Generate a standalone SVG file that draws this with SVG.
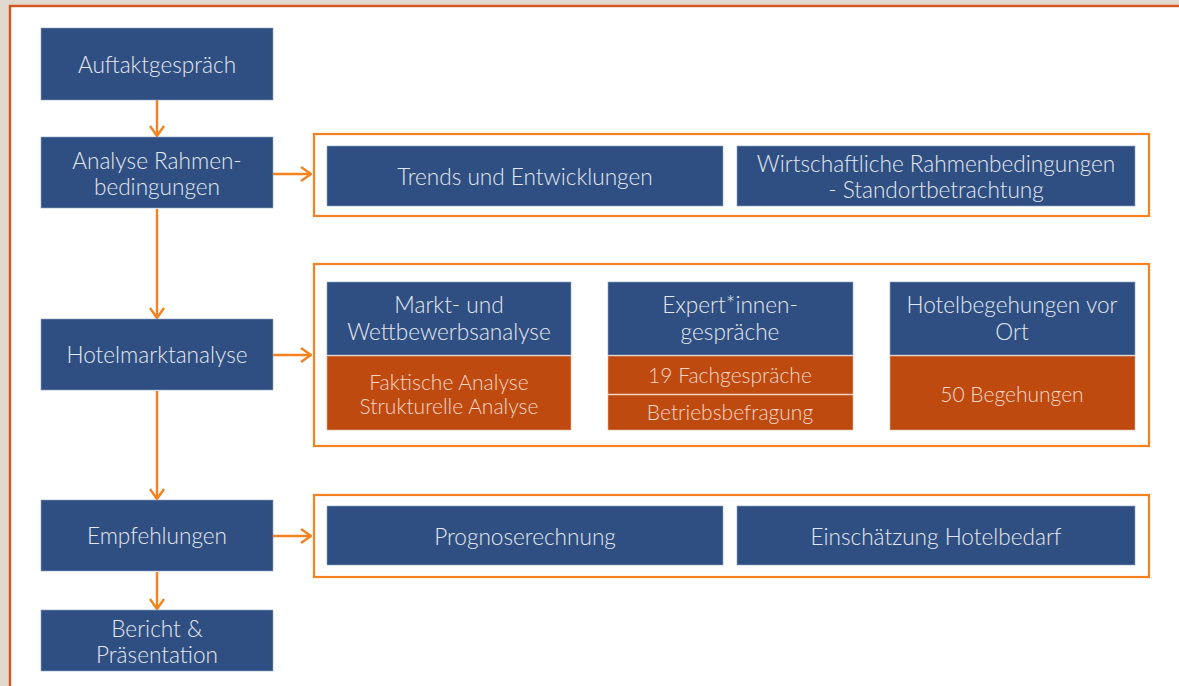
<svg xmlns="http://www.w3.org/2000/svg" width="1179" height="686" viewBox="0 0 1179 686">
<defs>
<marker id="ah" viewBox="0 0 12 16" refX="11" refY="8" markerWidth="12" markerHeight="16" markerUnits="userSpaceOnUse" orient="auto">
<path d="M1,1 L11,8 L1,15" fill="none" stroke="#f5821f" stroke-width="2.4"/>
</marker>
</defs>
<style>
.b{fill:#2f4f82;stroke:#8fa3c4;stroke-width:0.6}
.o{fill:#bf4a10;stroke:#e8b49a;stroke-width:0.6}
.c{fill:none;stroke:#f5821f;stroke-width:2.2}
.t{font-family:Lato,"Open Sans",sans-serif;font-size:22.6px;fill:#e3e8f0;text-anchor:middle;font-weight:300}
.w{fill:#f2d6c6;font-size:21px}
.a{fill:none;stroke:#f5821f;stroke-width:2.4}
</style>
<rect width="1179" height="686" fill="#e1d8ce"/>
<rect x="10" y="6" width="1175" height="690" fill="#ffffff" stroke="#d4561f" stroke-width="2.4"/>
<g id="connectors">
<line class="a" x1="157" y1="100" x2="157" y2="136" marker-end="url(#ah)"/>
<line class="a" x1="157" y1="209" x2="157" y2="318" marker-end="url(#ah)"/>
<line class="a" x1="157" y1="391" x2="157" y2="499" marker-end="url(#ah)"/>
<line class="a" x1="157" y1="572" x2="157" y2="609" marker-end="url(#ah)"/>
<line class="a" x1="273" y1="174" x2="311" y2="174" marker-end="url(#ah)"/>
<line class="a" x1="273" y1="355" x2="311" y2="355" marker-end="url(#ah)"/>
<line class="a" x1="273" y1="536" x2="311" y2="536" marker-end="url(#ah)"/>
</g>
<g id="container1"><rect class="c" x="314" y="134" width="835" height="82"/></g>
<g id="container2"><rect class="c" x="314" y="264" width="835" height="182"/></g>
<g id="container3"><rect class="c" x="314" y="495" width="835" height="82"/></g>
<g id="auftakt"><rect class="b" x="41" y="28" width="232" height="72"/><text class="t" x="157" y="73">Auftaktgespräch</text></g>
<g id="analyse"><rect class="b" x="41" y="137" width="232" height="71"/><text class="t" x="157" y="169">Analyse Rahmen-</text><text class="t" x="157" y="195">bedingungen</text></g>
<g id="hotelmarkt"><rect class="b" x="41" y="319" width="232" height="71"/><text class="t" x="157" y="363">Hotelmarktanalyse</text></g>
<g id="empfehlungen"><rect class="b" x="41" y="500" width="232" height="71"/><text class="t" x="157" y="544">Empfehlungen</text></g>
<g id="bericht"><rect class="b" x="41" y="610" width="232" height="61"/><text class="t" x="157" y="637">Bericht &amp;</text><text class="t" x="157" y="663">Präsentation</text></g>
<g id="trends"><rect class="b" x="327" y="146" width="396" height="60"/><text class="t" x="525" y="185">Trends und Entwicklungen</text></g>
<g id="wirtschaft"><rect class="b" x="737" y="146" width="398" height="60"/><text class="t" x="936" y="172">Wirtschaftliche Rahmenbedingungen</text><text class="t" x="936" y="198">- Standortbetrachtung</text></g>
<g id="markt"><rect class="b" x="327" y="282" width="244" height="73"/><text class="t" x="449" y="313">Markt- und</text><text class="t" x="449" y="340">Wettbewerbsanalyse</text></g>
<g id="markt-detail"><rect class="o" x="327" y="356" width="244" height="74"/><text class="t w" x="449" y="390">Faktische Analyse</text><text class="t w" x="449" y="414">Strukturelle Analyse</text></g>
<g id="expert"><rect class="b" x="608" y="282" width="245" height="73"/><text class="t" x="730" y="313">Expert*innen-</text><text class="t" x="730" y="340">gespräche</text></g>
<g id="fach"><rect class="o" x="608" y="356" width="245" height="38"/><text class="t w" x="730" y="383">19 Fachgespräche</text></g>
<g id="betrieb"><rect class="o" x="608" y="395" width="245" height="35"/><text class="t w" x="730" y="420">Betriebsbefragung</text></g>
<g id="hotelbeg"><rect class="b" x="890" y="282" width="245" height="73"/><text class="t" x="1012" y="313">Hotelbegehungen vor</text><text class="t" x="1012" y="340">Ort</text></g>
<g id="begehungen"><rect class="o" x="890" y="356" width="245" height="74"/><text class="t w" x="1012" y="402">50 Begehungen</text></g>
<g id="prognose"><rect class="b" x="327" y="506" width="396" height="59"/><text class="t" x="525" y="545">Prognoserechnung</text></g>
<g id="einschaetzung"><rect class="b" x="737" y="506" width="398" height="59"/><text class="t" x="936" y="545">Einschätzung Hotelbedarf</text></g>
</svg>
